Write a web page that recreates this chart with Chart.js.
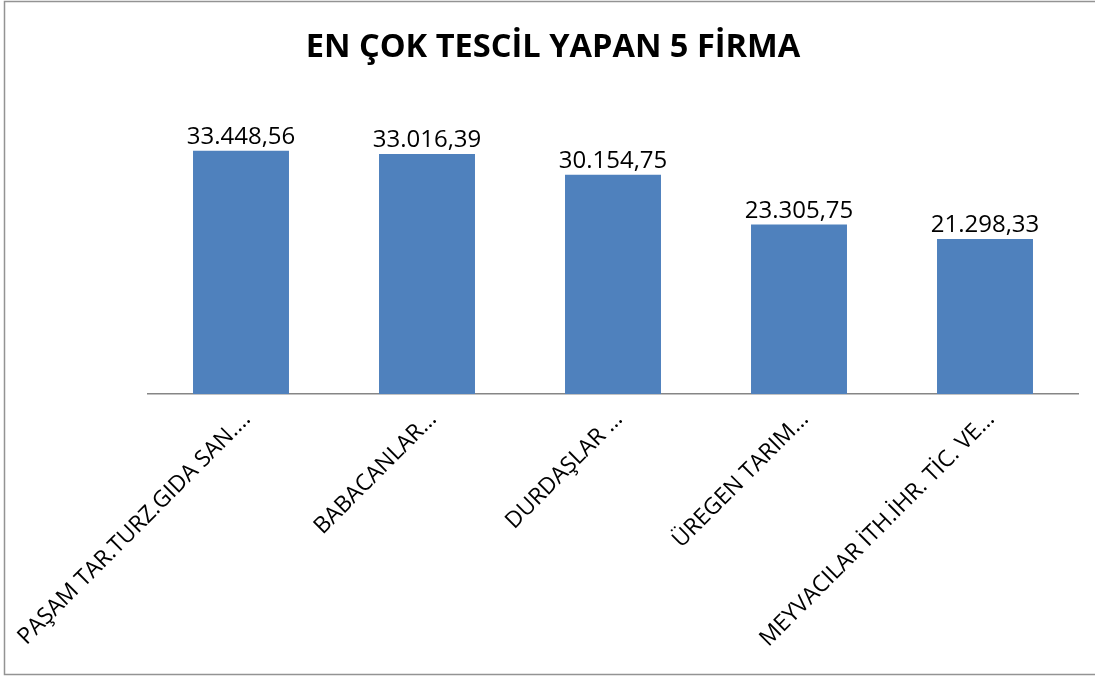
<!DOCTYPE html>
<html>
<head>
<meta charset="utf-8">
<script src="https://cdn.jsdelivr.net/npm/chart.js@4/dist/chart.umd.min.js"></script>
<style>
  html, body { margin: 0; padding: 0; background: #fff; }
  #wrap { width: 1095px; height: 677px; position: relative; }
</style>
</head>
<body>
<div id="wrap"><canvas id="grafik" width="1095" height="677"></canvas></div>
<script>
// veriler
const firmalar = [
  'PAŞAM TAR.TURZ.GIDA SAN.…',
  'BABACANLAR…',
  'DURDAŞLAR …',
  'ÜREGEN TARIM…',
  'MEYVACILAR İTH.İHR. TİC. VE…'
];
const tescilMiktari = [33448.56, 33016.39, 30154.75, 23305.75, 21298.33];
const baslik = 'EN ÇOK TESCİL YAPAN 5 FİRMA';

// 33448.56 -> "33.448,56"
function formatla(v) {
  const [tam, ondalik] = v.toFixed(2).split('.');
  return tam.replace(/\B(?=(\d{3})+(?!\d))/g, '.') + ',' + ondalik;
}

const cerceve = {
  id: 'cerceve',
  beforeDraw(chart) {
    const ctx = chart.ctx;
    ctx.save();
    ctx.fillStyle = '#fff';
    ctx.fillRect(0, 0, chart.width, chart.height);
    ctx.strokeStyle = '#939393';
    ctx.lineWidth = 1.5;
    ctx.strokeRect(4.5, 1.5, 1098, 673);
    ctx.restore();
  }
};

const degerEtiketleri = {
  id: 'degerEtiketleri',
  afterDatasetsDraw(chart) {
    const ctx = chart.ctx;
    const meta = chart.getDatasetMeta(0);
    ctx.save();
    ctx.font = '24px "Open Sans"';
    ctx.fillStyle = '#000';
    ctx.textAlign = 'center';
    ctx.textBaseline = 'alphabetic';
    meta.data.forEach((bar, i) => {
      ctx.fillText(formatla(tescilMiktari[i]), bar.x, bar.y - 7);
    });
    ctx.restore();
  }
};

// gizli eksen: sadece boşluk için
const bosEksen = (pos, w) => ({
  position: pos,
  display: true,
  min: 0,
  max: 40000,
  grid: { display: false },
  border: { display: false },
  ticks: { display: false },
  afterFit(s) { s.width = w; }
});

new Chart(document.getElementById('grafik').getContext('2d'), {
  type: 'bar',
  data: {
    labels: firmalar,
    datasets: [{
      data: tescilMiktari,
      backgroundColor: '#4F81BD',
      borderWidth: 0,
      barPercentage: 0.516,
      categoryPercentage: 1,
      yAxisID: 'y'
    }]
  },
  options: {
    responsive: false,
    animation: false,
    layout: { padding: { left: 11, right: 0, top: 0, bottom: 0 } },
    plugins: {
      legend: { display: false },
      tooltip: { enabled: false },
      title: {
        display: true,
        text: baslik,
        color: '#000',
        font: { family: 'Open Sans', size: 32.6, weight: 'bold', lineHeight: 1.2 },
        padding: { top: 28, bottom: 36 }
      }
    },
    scales: {
      x: {
        grid: { display: false },
        border: { display: true, color: '#868686', width: 1.5 },
        ticks: {
          color: '#000',
          font: { family: 'Open Sans', size: 22.8 },
          minRotation: 45,
          maxRotation: 45,
          autoSkip: false,
          labelOffset: 6,
          padding: 4
        },
        afterFit(s) {
          s.height = 283;
          s.paddingLeft = 0;
          s.paddingRight = 0;
        }
      },
      y: bosEksen('left', 137),
      ySag: bosEksen('right', 17)
    }
  },
  plugins: [cerceve, degerEtiketleri]
});
</script>
</body>
</html>
